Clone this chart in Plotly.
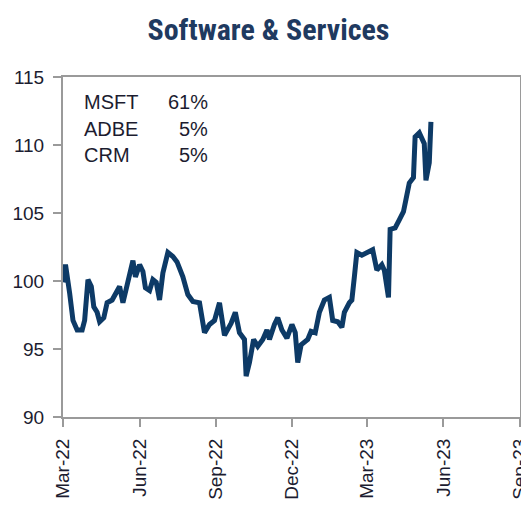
import plotly.graph_objects as go

# Data (index level, weekly-ish points)
dates = [
    "2022-03-01", "2022-03-04", "2022-03-09", "2022-03-13", "2022-03-18", "2022-03-24",
    "2022-03-27", "2022-03-31", "2022-04-04", "2022-04-07", "2022-04-11", "2022-04-14",
    "2022-04-19", "2022-04-23", "2022-04-29", "2022-05-05", "2022-05-08", "2022-05-12",
    "2022-05-17", "2022-05-20", "2022-05-24", "2022-05-27", "2022-06-01", "2022-06-05",
    "2022-06-08", "2022-06-13", "2022-06-17", "2022-06-21", "2022-06-25", "2022-06-29",
    "2022-07-05", "2022-07-11", "2022-07-16", "2022-07-23", "2022-07-29", "2022-08-04",
    "2022-08-12", "2022-08-18", "2022-08-24", "2022-08-30", "2022-09-05", "2022-09-11",
    "2022-09-19", "2022-09-24", "2022-09-29", "2022-10-05", "2022-10-07", "2022-10-11",
    "2022-10-16", "2022-10-21", "2022-10-27", "2022-11-01", "2022-11-04", "2022-11-10",
    "2022-11-14", "2022-11-19", "2022-11-25", "2022-12-01", "2022-12-05", "2022-12-08",
    "2022-12-12", "2022-12-20", "2022-12-24", "2022-12-29", "2023-01-03", "2023-01-09",
    "2023-01-15", "2023-01-19", "2023-01-25", "2023-01-30", "2023-02-02", "2023-02-08",
    "2023-02-11", "2023-02-14", "2023-02-17", "2023-02-23", "2023-03-01", "2023-03-08",
    "2023-03-13", "2023-03-19", "2023-03-22", "2023-03-27", "2023-03-29", "2023-04-04",
    "2023-04-09", "2023-04-14", "2023-04-17", "2023-04-21", "2023-04-26", "2023-04-28",
    "2023-05-03", "2023-05-09", "2023-05-11", "2023-05-15", "2023-05-17",
]
values = [
    99.9, 101.2, 99.1, 97.1, 96.4, 96.4,
    97.1, 100.1, 99.6, 98.1, 97.7, 97.0,
    97.3, 98.4, 98.6, 99.3, 99.6, 98.4,
    99.6, 100.2, 101.5, 100.3, 101.2, 100.7,
    99.5, 99.3, 100.1, 99.9, 98.6, 100.6,
    102.1, 101.8, 101.4, 100.3, 99.0, 98.5,
    98.4, 96.2, 96.8, 97.1, 98.4, 96.0,
    96.9, 97.7, 96.2, 95.7, 93.0, 94.0,
    95.7, 95.2, 95.7, 96.4, 95.7, 96.8,
    97.3, 96.4, 95.8, 96.8, 96.2, 94.0,
    95.3, 95.7, 96.3, 96.2, 97.7, 98.6,
    98.8, 97.1, 97.0, 96.6, 97.7, 98.4,
    98.6, 100.3, 102.1, 101.9, 102.1, 102.3,
    100.8, 101.2, 100.8, 98.8, 103.8, 103.9,
    104.5, 105.1, 106.0, 107.2, 107.6, 110.6,
    110.9, 110.1, 107.4, 108.7, 111.7,
]

# Top weights shown in the corner box
tickers = ["MSFT", "ADBE", "CRM"]
weights = ["61%", "5%", "5%"]

NAVY = "#0d3a66"
TEXT = "#1c1c30"
GRID = "#9a9a9a"

fig = go.Figure()
fig.add_trace(go.Scatter(x=dates, y=values, mode="lines",
                         line=dict(color=NAVY, width=5),
                         showlegend=False))

# Ticker / weight labels
for i, (t, w) in enumerate(zip(tickers, weights)):
    yy = 0.926 - i * 0.078
    fig.add_annotation(text=t, x=0.042, y=yy, xref="paper", yref="paper",
                       xanchor="left", yanchor="middle", showarrow=False,
                       font=dict(size=20, color=TEXT))
    fig.add_annotation(text=w, x=0.322, y=yy, xref="paper", yref="paper",
                       xanchor="right", yanchor="middle", showarrow=False,
                       font=dict(size=20, color=TEXT))

fig.update_xaxes(range=["2022-03-01", "2023-09-01"], tick0="2022-03-01", dtick="M3",
                 tickformat="%b-%y", tickangle=-90, ticks="outside", ticklen=8,
                 tickcolor=GRID, tickwidth=1.5, showline=True, linecolor=GRID,
                 linewidth=2, mirror=True, showgrid=False, zeroline=False,
                 automargin=False, ticklabelstandoff=4, ticklabeloverflow="allow",
                 tickfont=dict(size=19, color=TEXT))
fig.update_yaxes(range=[90, 115], dtick=5, ticks="outside", ticklen=8,
                 tickcolor=GRID, tickwidth=1.5, showline=True, linecolor=GRID,
                 linewidth=2, mirror=True, showgrid=False, zeroline=False,
                 automargin=False, ticklabelstandoff=5,
                 tickfont=dict(size=19, color=TEXT))

# page body adds an 8px offset, so the figure is sized to fit the window
fig.update_layout(
    width=521, height=497,
    margin=dict(l=55, r=9, t=69, b=88),
    paper_bgcolor="white", plot_bgcolor="white",
    font=dict(family="Liberation Sans, Arial, sans-serif"),
    title=dict(text="<b>Software & Services</b>", x=0.5, xanchor="center",
               y=0.956, yanchor="middle",
               font=dict(family="Roboto Condensed, Liberation Sans Narrow, sans-serif",
                         size=30, color="#1f3a60")),
)

fig.write_html("out.html")
